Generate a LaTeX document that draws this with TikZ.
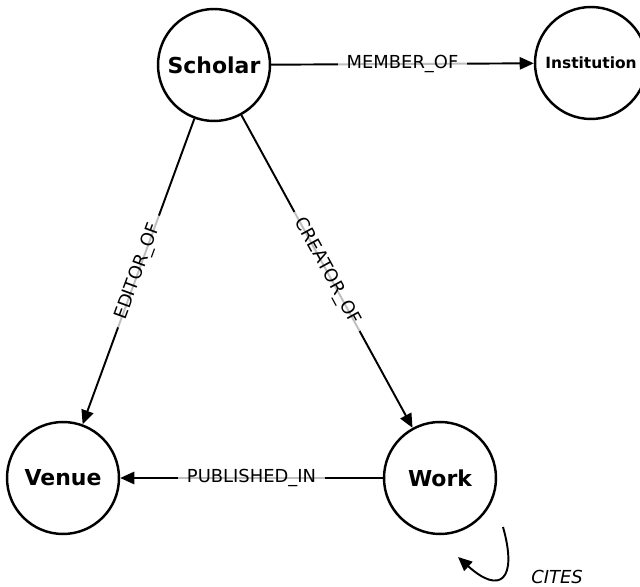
\documentclass[tikz,border=0pt]{standalone}
\usepackage{fontspec}
\setmainfont{DejaVu Sans}
\usetikzlibrary{calc,arrows.meta}
\tikzset{
  ent/.style={circle,draw=black,line width=1.4pt,minimum size=2.24cm,inner sep=0pt,font=\bfseries\fontsize{12.5}{14}\selectfont},
  rel/.style={-{Triangle[length=8pt,width=7pt]},line width=1.1pt},
  lab/.style={fill=white,fill opacity=0.75,text opacity=1,inner xsep=5pt,inner ysep=1.5pt,font=\fontsize{10.2}{12}\selectfont}
}
\begin{document}
\begin{tikzpicture}[x=0.02cm,y=-0.02cm]
\useasboundingbox (0,0) rectangle (640,587);
\node[ent] (scholar) at (214,65) {Scholar};
\node[ent,font=\bfseries\fontsize{8.8}{10}\selectfont] (inst) at (591,63) {Institution};
\node[ent] (venue) at (63,478) {Venue};
\node[ent] (work) at (440,478) {Work};
\draw[rel] (scholar) -- (inst) node[lab,midway] {MEMBER\_OF};
\draw[rel] (scholar) -- (venue) node[lab,midway,sloped] {EDITOR\_OF};
\draw[rel] (scholar) -- (work) node[lab,midway,sloped] {CREATOR\_OF};
\draw[rel] (work) -- (venue) node[lab,midway] {PUBLISHED\_IN};
\draw[rel] ($(work)+(63,49)$) .. controls ($(work)+(78,102)$) and ($(work)+(60,117)$) .. ($(work)+(18,79)$);
\node[lab,font=\itshape\fontsize{10.2}{12}\selectfont] (cites) at ($(work)+(117,99)$) {CITES};
\end{tikzpicture}
\end{document}
